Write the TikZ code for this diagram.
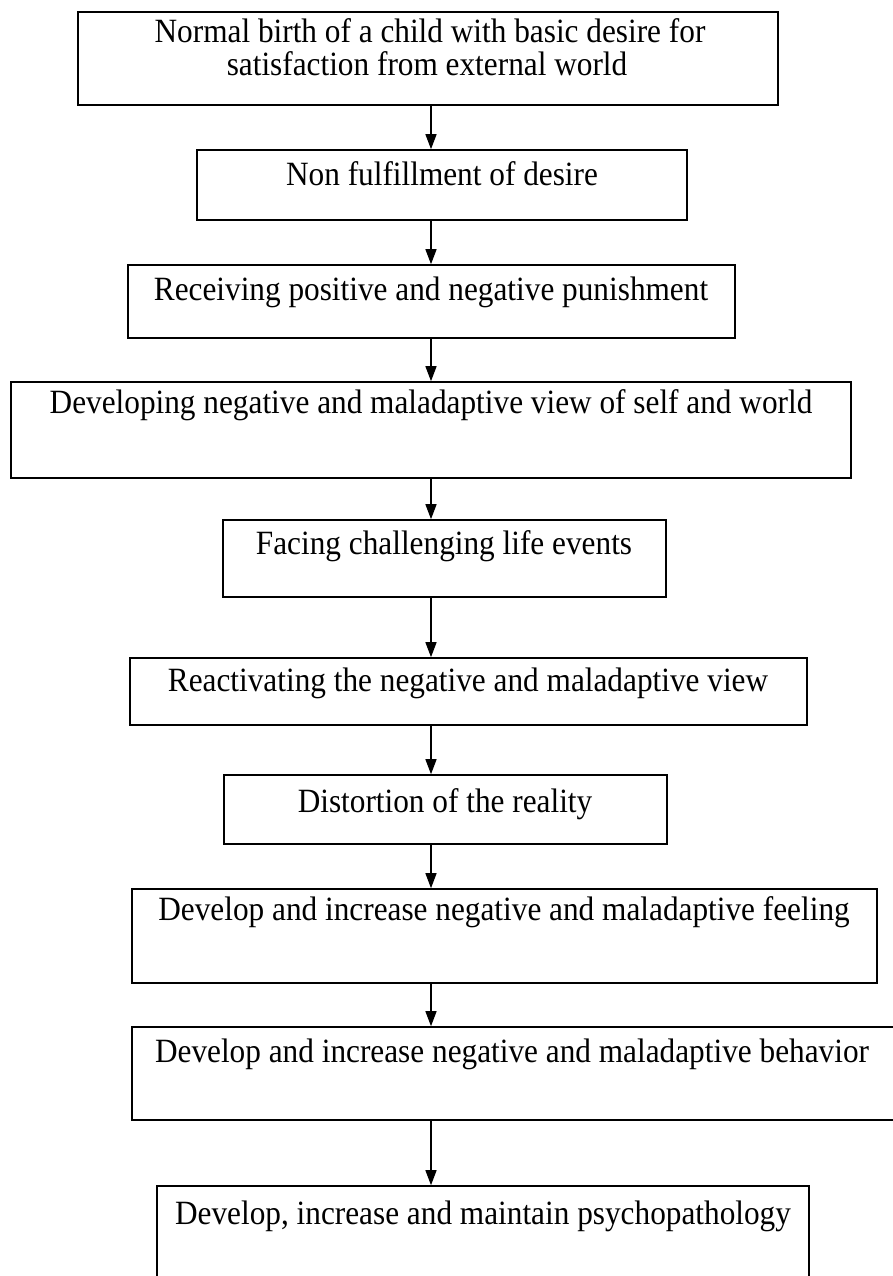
\documentclass[tikz,border=0pt]{standalone}
\usepackage{fontspec}
\setmainfont{Liberation Serif}[FakeStretch=0.92]
\usetikzlibrary{arrows.meta}
\begin{document}
\begin{tikzpicture}[x=1pt,y=-1pt,
  stepbox/.style={draw, line width=1.6pt, inner sep=0pt},
  oneline/.style={font=\fontsize{34}{36}\selectfont, inner sep=0pt, text height=0.7em, text depth=0.25em},
  flow/.style={line width=1.4pt, -{Triangle[length=15pt,width=11pt]}}]
\useasboundingbox (0,0) rectangle (893,1276);
\fill[white] (0,0) rectangle (893,1276);
\clip (0,0) rectangle (893,1276);
\coordinate (axis) at (431,0);

% boxes of the chain (centre, width, height)
\node[stepbox, minimum width=700, minimum height=93] (b1) at (428,58.5) {};
\node[stepbox, minimum width=490, minimum height=70] (b2) at (442,185) {};
\node[stepbox, minimum width=607, minimum height=73] (b3) at (431.5,301.5) {};
\node[stepbox, minimum width=840, minimum height=96] (b4) at (431,430) {};
\node[stepbox, minimum width=443, minimum height=77] (b5) at (444.5,558.5) {};
\node[stepbox, minimum width=677, minimum height=67] (b6) at (468.5,691.5) {};
\node[stepbox, minimum width=443, minimum height=69] (b7) at (445.5,809.5) {};
\node[stepbox, minimum width=745, minimum height=94] (b8) at (504.5,936) {};
\node[stepbox, minimum width=763, minimum height=93] (b9) at (513.5,1073.5) {};
\node[stepbox, minimum width=652, minimum height=140] (b10) at (483,1256) {};

% texts
\node[oneline] (t1a) at (430,40) {Normal birth of a child with basic desire for};
\node[oneline] (t1b) at (427,73) {satisfaction from external world};
\node[oneline] (t2) at (442,183) {Non fulfillment of desire};
\node[oneline] (t3) at (431,298) {Receiving positive and negative punishment};
\node[oneline] (t4) at (431,411) {Developing negative and maladaptive view of self and world};
\node[oneline] (t5) at (444,552) {Facing challenging life events};
\node[oneline] (t6) at (468,689) {Reactivating the negative and maladaptive view};
\node[oneline] (t7) at (445,810) {Distortion of the reality};
\node[oneline] (t8) at (504,918) {Develop and increase negative and maladaptive feeling};
\node[oneline] (t9) at (512,1060) {Develop and increase negative and maladaptive behavior};
\node[oneline] (t10) at (483,1222) {Develop, increase and maintain psychopathology};

% connectors
\foreach \a/\b in {b1/b2,b2/b3,b3/b4,b4/b5,b5/b6,b6/b7,b7/b8,b8/b9,b9/b10}
  \draw[flow] (\a.south -| axis) -- (\b.north -| axis);
\end{tikzpicture}
\end{document}
